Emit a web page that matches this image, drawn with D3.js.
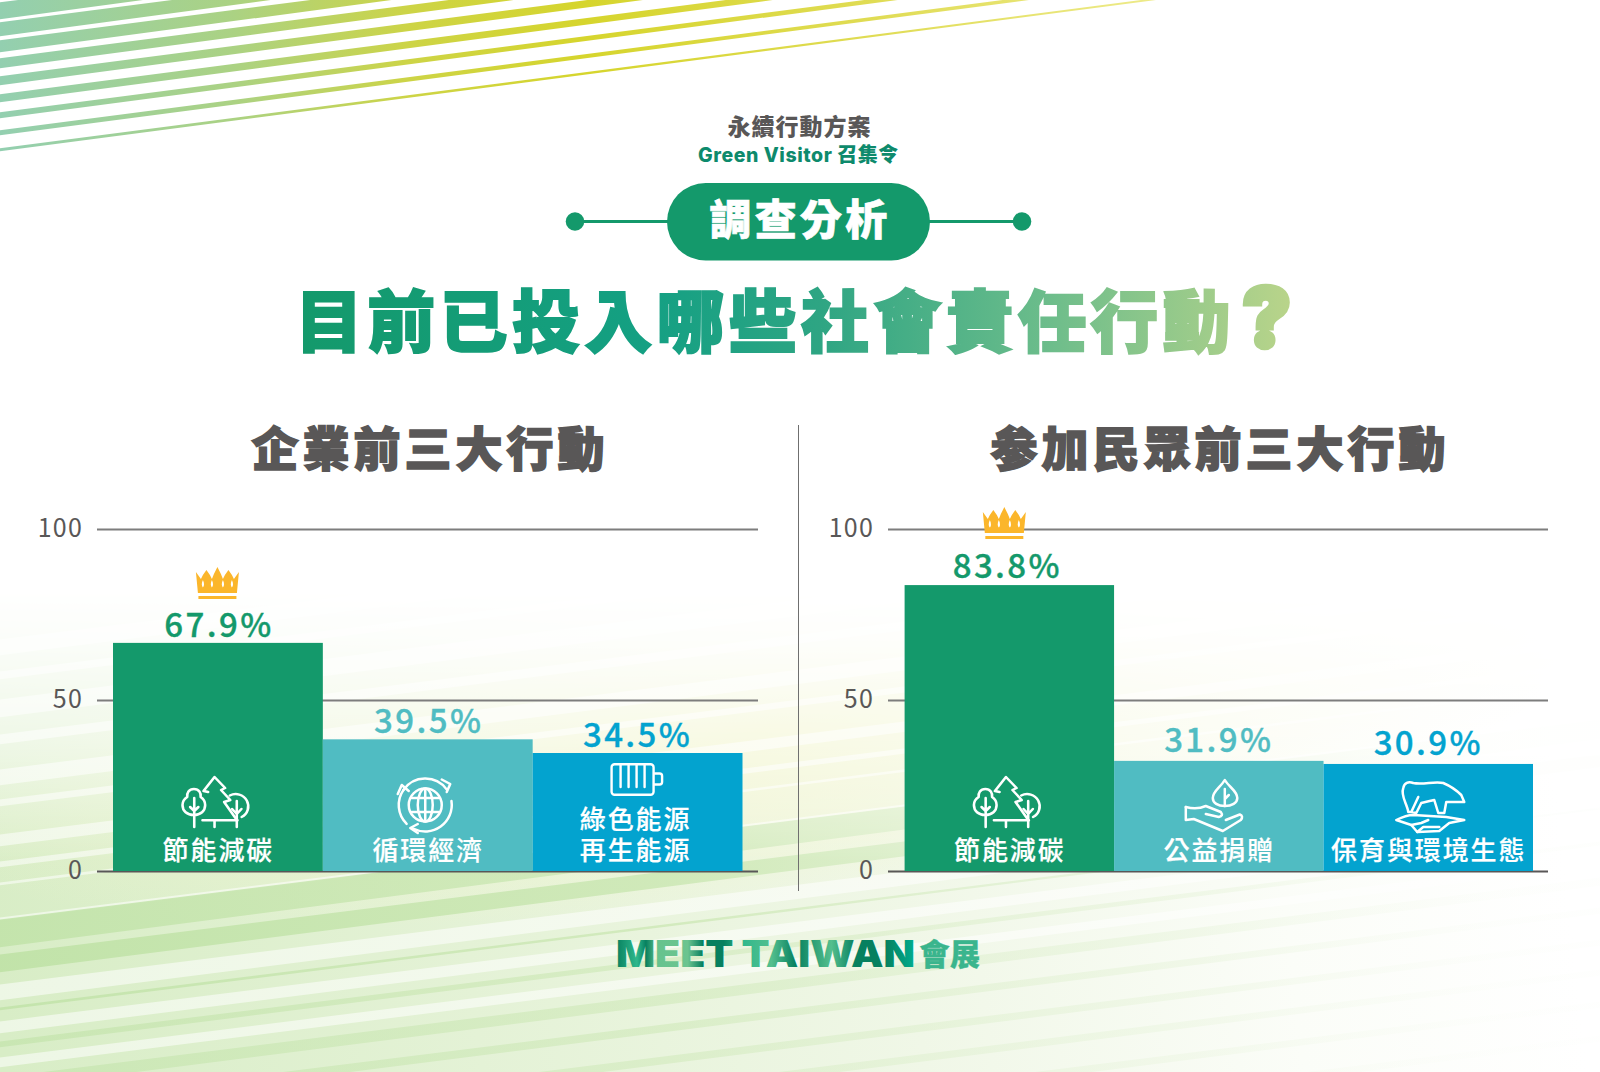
<!DOCTYPE html>
<html lang="zh-Hant"><head><meta charset="utf-8">
<script src="https://cdn.jsdelivr.net/npm/d3@7"></script>
<style>html,body{margin:0;padding:0;background:#fff}svg{display:block}
text{font-family:"Noto Sans CJK TC","Noto Sans",sans-serif}</style></head><body>
<script>
// ---------- chart data ----------
const companyTitle = "企業前三大行動";
const visitorTitle = "参加民眾前三大行動";
const companyCategories = ["節能減碳", "循環經濟", "綠色能源再生能源"];
const visitorCategories = ["節能減碳", "公益捐贈", "保育與環境生態"];
const companyLabels = [67.9, 39.5, 34.5];
const visitorLabels = [83.8, 31.9, 30.9];
// bar heights as actually drawn in the picture (they differ slightly from the printed labels)
const companyHeights = [66.7, 38.5, 34.5];
const visitorHeights = [83.6, 32.2, 31.3];
const yTicks = [0, 50, 100];
const barColors = ["#14996b", "#50bcc2", "#03a3cf"];
const companyIcons = ["trees", "globe", "battery"];
const visitorIcons = ["trees", "hand", "bear"];

// ---------- decoration lists: [y at left edge, thickness] ----------
const topBands = [[-14,14],[3,17],[23,14],[41,12],[59,10],[77,9],[95,8],[113,6],[131,5],[149,3]];
const greenBands = [[920,28,.8],[955,18,.9],[1008,3,.8],[1042,6,.6],[1078,12,.55],[1108,9,.55],[1140,9,.5],[1170,9,.45],[1202,9,.4],[1236,9,.3]];
const whiteBands = [[640,16],[672,8],[700,18],[735,10],[770,16],[800,7],[835,12],[862,6],[883,3],[918,3],[985,16],[1022,12],[1058,10]];

const W = 1600, H = 1072;
const svg = d3.select("body").append("svg").attr("width", W).attr("height", H).attr("viewBox", `0 0 ${W} ${H}`);
const defs = svg.append("defs");
function grad(id, stops, x1, y1, x2, y2) {
  const g = defs.append("linearGradient").attr("id", id).attr("gradientUnits", "userSpaceOnUse")
    .attr("x1", x1).attr("y1", y1).attr("x2", x2).attr("y2", y2);
  stops.forEach(s => g.append("stop").attr("offset", s[0]).attr("stop-color", s[1]).attr("stop-opacity", s[2] === undefined ? 1 : s[2]));
}
grad("gTop", [[0,"#93cfb0"],[.2,"#abd283"],[.35,"#cdd446"],[.5,"#d6d52d"],[.75,"#e0dc55"],[1,"#eeeb8c"]], 0, 0, 1170, 0);
grad("gBase", [[0,"#d8edc6"],[.3,"#e4f2d6"],[.58,"#f0f7e7"],[.82,"#fbfdf8"],[1,"#ffffff"]], 0, 1000, 1560, 820);
grad("gFade", [[0,"#000"],[.15,"#1c1c1c"],[.45,"#707070"],[.8,"#fff"],[1,"#fff"]], 0, 590, 0, 930);
grad("gGreen", [[0,"#bfe2a6"],[.45,"#cde8b6"],[.8,"#e6f3d9",.8],[1,"#f4faee",.2]], 0, 0, 1500, 0);
grad("gWhite", [[0,"#fff",.55],[.7,"#fff",.55],[1,"#fff",.4]], 0, 0, 1600, 0);
grad("gTitle", [[0,"#14996b"],[.35,"#14a083"],[.52,"#2ea583"],[.75,"#6dbd8b"],[1,"#bcd58a"]], 300, 0, 1300, 0);
grad("gLogo", [[0,"#07805f"],[.07,"#2fb88c"],[.1,"#07805f"],[.14,"#66c38e"],[.24,"#6cc48f"],[.29,"#07805f"],[.36,"#07805f"],[.42,"#2fb88c"],[.52,"#54bf8e"],[.6,"#07805f"],[.72,"#54bf8e"],[.8,"#07805f"],[.9,"#07805f"],[1,"#00ad8f"]], 616, 0, 915, 0);
const yellow = defs.append("radialGradient").attr("id", "gYellow");
yellow.append("stop").attr("offset", 0).attr("stop-color", "#eff2bd").attr("stop-opacity", .95);
yellow.append("stop").attr("offset", 1).attr("stop-color", "#f5f6d0").attr("stop-opacity", 0);
defs.append("mask").attr("id", "mFade").attr("maskUnits", "userSpaceOnUse").attr("x", 0).attr("y", 0).attr("width", W).attr("height", H)
  .append("rect").attr("width", W).attr("height", H).attr("fill", "url(#gFade)");

svg.append("rect").attr("width", W).attr("height", H).attr("fill", "#fff");

// bottom background
const slope = 0.125;
const band = (y0, t, taper) => `M-5 ${y0} L1605 ${y0 - slope * 1610} L1605 ${y0 - slope * 1610 + t * taper} L-5 ${y0 + t} Z`;
const bg = svg.append("g").attr("mask", "url(#mFade)");
bg.append("rect").attr("y", 560).attr("width", W).attr("height", H - 560).attr("fill", "url(#gBase)");
bg.append("ellipse").attr("cx", 760).attr("cy", 730).attr("rx", 850).attr("ry", 170).attr("fill", "url(#gYellow)").attr("transform", "rotate(-7 760 730)");
bg.selectAll("path.w").data(whiteBands).join("path").attr("class", "w").attr("d", d => band(d[0], d[1], .8)).attr("fill", "url(#gWhite)");
bg.selectAll("path.g").data(greenBands).join("path").attr("class", "g").attr("d", d => band(d[0], d[1], .7)).attr("fill", "url(#gGreen)").attr("opacity", d => d[2]);

// top stripes
svg.append("g").selectAll("path").data(topBands).join("path")
  .attr("d", d => {
    const x2 = 1300, s = 0.1305;
    return `M-5 ${d[0]} L${x2} ${d[0] - s * x2} L${x2} ${d[0] - s * x2 + d[1] * .6} L-5 ${d[0] + d[1]} Z`;
  }).attr("fill", "url(#gTop)");

// header
const ink = "#595757";
function txt(g, s, x, y, size, weight, fill, ls, sw) {
  const t = g.append("text").attr("x", x).attr("y", y).attr("text-anchor", "middle")
    .attr("font-size", size).attr("font-weight", weight).attr("fill", fill).attr("letter-spacing", ls || 0).text(s);
  if (sw) t.attr("stroke", fill).attr("stroke-width", sw).attr("stroke-linejoin", "miter").attr("stroke-miterlimit", 3);
  return t;
}
const head = svg.append("g");
txt(head, "永續行動方案", 799.5, 135, 23, 900, ink, 1);
const gv = head.append("text").attr("x", 798.5).attr("y", 162).attr("text-anchor", "middle").attr("font-size", 20).attr("font-weight", 900).attr("fill", "#0d8a6c").attr("letter-spacing", .55);
gv.append("tspan").attr("style", "font-family:Inter,Lato,sans-serif").attr("font-weight", 800).attr("font-size", 19.5).text("Green Visitor ");
gv.append("tspan").text("召集令");
head.append("line").attr("x1", 575).attr("x2", 1022).attr("y1", 221.5).attr("y2", 221.5).attr("stroke", "#14996b").attr("stroke-width", 3);
[575, 1022].forEach(x => head.append("circle").attr("cx", x).attr("cy", 221.5).attr("r", 9.3).attr("fill", "#14996b"));
head.append("rect").attr("x", 667).attr("y", 183).attr("width", 263).attr("height", 77.5).attr("rx", 38.7).attr("fill", "#14996b");
txt(head, "調查分析", 800, 235, 42, 900, "#fff", 3.2, .7);
const mainTitle = head.append("text").attr("x", 295).attr("y", 347).attr("font-size", 68).attr("font-weight", 900)
  .attr("fill", "url(#gTitle)").attr("letter-spacing", 4.3).attr("stroke", "url(#gTitle)").attr("stroke-width", 1.8).attr("stroke-linejoin", "miter").attr("stroke-miterlimit", 3);
mainTitle.append("tspan").text("目前已投入哪些社會責任行動");
mainTitle.append("tspan").attr("style", "font-family:Inter,Lato,sans-serif").attr("font-size", 82).attr("stroke-width", 4.5).attr("dx", 7).attr("dy", 0).text("?");

// divider
svg.append("line").attr("x1", 798.5).attr("x2", 798.5).attr("y1", 425).attr("y2", 891).attr("stroke", "#6f6f6f").attr("stroke-width", 1);

// icons
function iconGlobe(g) {
  const c = [27.5, 28];
  g.append("circle").attr("cx", c[0]).attr("cy", c[1]).attr("r", 16.5);
  g.append("ellipse").attr("cx", c[0]).attr("cy", c[1]).attr("rx", 7.5).attr("ry", 16.5);
  g.append("path").attr("d", `M${c[0]} ${c[1]-16}V${c[1]+16}M${c[0]-14} ${c[1]-7}H${c[0]+14}M${c[0]-14} ${c[1]+7}H${c[0]+14}`);
  [[-2.55,-.62],[-.15,2.05],[2.35,3.75]].forEach(a => {
    const p = d3.path(); p.arc(c[0], c[1], 26.5, a[0], a[1]); g.append("path").attr("d", p.toString());
  });
  g.append("path").attr("d", "M44 2.5 L52.5 7 L49 15");
  g.append("path").attr("d", "M20 47 L12.5 51 L20 56");
  g.append("path").attr("d", "M0 17 L4 8 L11 14");
}
const iconPaths = {
  trees: ["M10.7 13c-5 0-7 4-6.5 8c-3 2-4.6 5-4.6 8c0 6 4.4 10 11 10s11-4 11-10c0-3-1.5-6-4.4-8c.5-4-1.5-8-6.5-8z",
    "M11 22V51M11 35l-4-4M11 35l4-4",
    "M20 15L30.7 1L41 12L37 14L46 24L40 26L51 42M20 15L24.5 16",
    "M19 44.3H53M30.7 44.3V51",
    "M45.5 19.5A11.5 11.5 0 1 1 57 41M52.3 25V51M52.3 38l-4.5-5M52.3 38l4.5-5"],
  battery: ["M4 1.2H40a3 3 0 0 1 3 3V28.8a3 3 0 0 1-3 3H4a3 3 0 0 1-3-3V4.2a3 3 0 0 1 3-3z",
    "M10 2V24M18 2V24M26 2V24M34 2V24",
    "M44 10.5h5a2.5 2.5 0 0 1 2.5 2.5v6a2.5 2.5 0 0 1-2.5 2.5h-5"],
  hand: ["M40 1C36 8 28 12 28 19C28 24 33 27 40 27S52.5 24 52.5 19C52.5 12 44 8 40 1z",
    "M40 27V10M40 20l4-4",
    "M1 28V41L9 40L38 52L56 41Q59 37 55 35.5L41 41",
    "M1 28Q12 31 21 27L36 33Q39 37 34 38L21 35"],
  bear: ["M15 32L12 32C11 24 4 16 7 8C8 3 12 1 17 3C27 5 38 1 47 3C54 6 60 10 65 15L68 22H50L48 33H42L38 20C33 21 29 22 25 23L20 33L15 32L22 17",
    "M0 40C6 37 11 35 17 35L50 37L68 40L53 43L43 51L21 52L15 45L0 40z",
    "M15 45L25 43L32 40M21 52L27 47H43"]
};
const iconOrigin = { trees: [-35, -95], globe: [-30, -94], battery: [-27, -108], hand: [-34, -92], bear: [-32, -91] };
function drawIcon(g, name, cx, base) {
  const o = iconOrigin[name];
  const ic = g.append("g").attr("transform", `translate(${cx + o[0]},${base + o[1]})${name === "trees" ? " scale(1.03,1)" : ""}`)
    .attr("fill", "none").attr("stroke", "#fff").attr("stroke-width", name === "battery" ? 2.4 : 2.5).attr("stroke-linejoin", "round").attr("stroke-linecap", "round");
  if (name === "globe") iconGlobe(ic);
  else iconPaths[name].forEach(d => ic.append("path").attr("d", d));
}
const crownPath = "M2 26L0 5L5 12L7 8L10.5 3L14 8L16 12L18 7L21.5 0L25 7L27 12L29 8L32.5 3L36 8L38 12L43 5L41 26Z"
  + "M7 13C5.5 16 5.5 19 7 20.5C8.5 19 8.5 16 7 13ZM16 13C14.5 16 14.5 19 16 20.5C17.5 19 17.5 16 16 13ZM27 13C25.5 16 25.5 19 27 20.5C28.5 19 28.5 16 27 13ZM36 13C34.5 16 34.5 19 36 20.5C37.5 19 37.5 16 36 13Z"
  + "M2.5 29H40.5V32H2.5Z";

// panels
function panel(opt) {
  const x = d3.scaleBand().domain(opt.categories).range(opt.barRange).paddingInner(0).paddingOuter(0);
  const y = d3.scaleLinear().domain([0, 100]).range([871, 529]);
  const g = svg.append("g");
  txt(g, opt.title, opt.titleX, 466, 47, 900, ink, 4, 1.6);
  const axis = d3.axisLeft(y).tickValues(yTicks).tickSize(opt.axisRange[1] - opt.axisRange[0]).tickPadding(14);
  const ag = g.append("g").attr("transform", `translate(${opt.axisRange[1]},0)`).call(axis);
  ag.select(".domain").remove();
  ag.selectAll("line").attr("stroke", d => d === 0 ? "#595757" : "#7d7d7d").attr("stroke-width", 2);
  ag.selectAll("text").attr("font-size", 25).attr("fill", ink).attr("letter-spacing", 1.2).attr("dy", "0.3em").style("font-family", '"Noto Sans CJK TC"').attr("font-weight", 400);
  g.selectAll("rect.bar").data(opt.categories).join("rect").attr("class", "bar")
    .attr("x", d => x(d)).attr("width", x.bandwidth())
    .attr("y", (d, i) => y(opt.heights[i])).attr("height", (d, i) => y(0) - y(opt.heights[i]))
    .attr("fill", (d, i) => barColors[i]);
  opt.categories.forEach((c, i) => {
    const cx = x(c) + x.bandwidth() / 2, top = y(opt.heights[i]);
    txt(g, opt.labels[i].toFixed(1) + "%", cx + opt.labelDx[i], top + opt.labelDy[i], 33, 500, barColors[i], 2.4, .35);
    if (c.length === 8) {
      const t = txt(g, "", cx - 2, 829, 26, 500, "#fff", 1.9, .2);
      t.append("tspan").attr("x", cx - 2).text(c.slice(0, 4));
      t.append("tspan").attr("x", cx - 2).attr("dy", 31).text(c.slice(4));
    } else {
      txt(g, c, cx + .5, 860, 26, 500, "#fff", 1.9, .2);
    }
    drawIcon(g, opt.icons[i], cx, 871);
    if (i === 0) g.append("path").attr("d", crownPath).attr("fill", "#fbb62b")
      .attr("transform", `translate(${cx + opt.crownDx - 21.5},${top + opt.crownDy})`);
  });
}
panel({ title: companyTitle, titleX: 430, categories: companyCategories, labels: companyLabels, heights: companyHeights, icons: companyIcons,
  barRange: [113, 742.5], axisRange: [97, 758], crownDx: -.5, crownDy: -76, labelDx: [1, 1, 0], labelDy: [-6, -6, -6] });
panel({ title: visitorTitle, titleX: 1220, categories: visitorCategories, labels: visitorLabels, heights: visitorHeights, icons: visitorIcons,
  barRange: [904.6, 1533], axisRange: [888, 1548], crownDx: -5, crownDy: -78, labelDx: [-2, 0, 0], labelDy: [-7, -9, -9] });

// footer logo
svg.append("text").attr("x", 616).attr("y", 967).attr("font-size", 37).attr("font-weight", 900).attr("fill", "url(#gLogo)")
  .attr("textLength", 299).attr("lengthAdjust", "spacingAndGlyphs").style("font-family", "Inter,Lato,sans-serif").text("MEET TAIWAN");
txt(svg, "會展", 950, 965, 30, 900, "#3ab58d", .5, .4);
</script></body></html>
